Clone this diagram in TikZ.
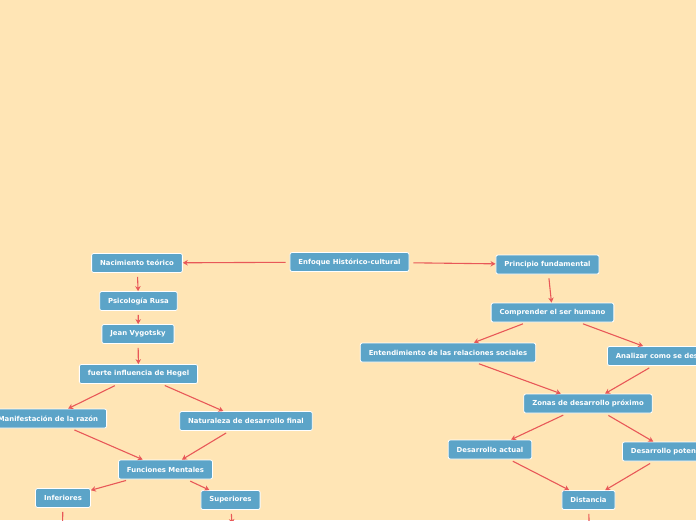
\documentclass[tikz,border=0pt]{standalone}
\usepackage{fontspec}
\newfontfamily\mapfont{DejaVu Sans}
\usepackage{xcolor}
\usetikzlibrary{arrows.meta,positioning}
\definecolor{mapbg}{RGB}{255,229,181}
\definecolor{mapbox}{RGB}{92,164,200}
\definecolor{maparr}{RGB}{232,88,88}

\begin{document}
\begin{tikzpicture}[
    x=1pt, y=-1pt,
    >={Stealth[length=5pt,width=5.5pt]},
    box/.style={draw=white, line width=0.8pt, rounded corners=2pt,
                fill=mapbox, text=white, inner xsep=8.5pt, inner ysep=0pt,
                minimum height=19pt,
                font=\mapfont\bfseries\fontsize{6.9}{8}\selectfont},
    arr/.style={->, line width=1.1pt, color=maparr, shorten <=4pt},
  ]
  \useasboundingbox (0,0) rectangle (696,520);
  \fill[mapbg] (0,0) rectangle (696,520);
  \clip (0,0) rectangle (696,520);

  % Central topic
  \node[box] (enfoque) at (349.5,262) {Enfoque Histórico-cultural};

  % Left branch
  \node[box] (nacimiento) at (137,263) {Nacimiento teórico};
  \node[box] (psicologia) at (138.5,301) {Psicología Rusa};
  \node[box] (vygotsky) at (138,334) {Jean Vygotsky};
  \node[box] (hegel) at (138.5,374) {fuerte influencia de Hegel};
  \node[box, anchor=east] (razon) at (107,418.5) {Manifestación de la razón};
  \node[box] (naturaleza) at (246,421) {Naturaleza de desarrollo final};
  \node[box] (funciones) at (165.5,469.5) {Funciones Mentales};
  \node[box] (inferiores) at (63,498) {Inferiores};
  \node[box] (superiores) at (230.5,500) {Superiores};
  \coordinate (inffin) at (62,560);
  \coordinate (supfin) at (232,524);

  % Right branch
  \node[box] (principio) at (547.5,264.5) {Principio fundamental};
  \node[box] (comprender) at (552.5,312.5) {Comprender el ser humano};
  \node[box] (relaciones) at (448,352.5) {Entendimiento de las relaciones sociales};
  \node[box, anchor=west] (analizar) at (607,356) {Analizar como se desarrolla};
  \node[box] (zonas) at (588,403.5) {Zonas de desarrollo próximo};
  \node[box] (actual) at (490,449.5) {Desarrollo actual};
  \node[box, anchor=west] (potencial) at (622,451.5) {Desarrollo potencial};
  \node[box] (distancia) at (588.5,500) {Distancia};
  \coordinate (disfin) at (590,560);

  \draw[arr] (enfoque) -- (nacimiento);
  \draw[arr] (nacimiento) -- (psicologia);
  \draw[arr] (psicologia) -- (vygotsky);
  \draw[arr] (vygotsky) -- (hegel);
  \draw[arr] (hegel) -- (razon);
  \draw[arr] (hegel) -- (naturaleza);
  \draw[arr] (razon) -- (funciones);
  \draw[arr] (naturaleza) -- (funciones);
  \draw[arr] (funciones) -- (inferiores);
  \draw[arr] (funciones) -- (superiores);
  \draw[arr] (inferiores) -- (inffin);
  \draw[arr] (superiores) -- (supfin);

  \draw[arr] (enfoque) -- (principio);
  \draw[arr] (principio) -- (comprender);
  \draw[arr] (comprender) -- (relaciones);
  \draw[arr] (comprender) -- (analizar);
  \draw[arr] (relaciones) -- (zonas);
  \draw[arr] (analizar) -- (zonas);
  \draw[arr] (zonas) -- (actual);
  \draw[arr] (zonas) -- (potencial);
  \draw[arr] (actual) -- (distancia);
  \draw[arr] (potencial) -- (distancia);
  \draw[arr] (distancia) -- (disfin);
\end{tikzpicture}
\end{document}
